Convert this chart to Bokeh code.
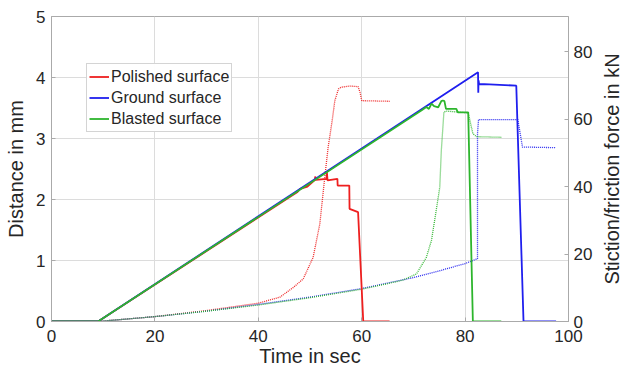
from bokeh.plotting import figure
from bokeh.layouts import row
from bokeh.models import Range1d, LinearAxis, FixedTicker, Legend, LegendItem
from bokeh.embed import file_html
from bokeh.resources import INLINE

# ---- data: force (solid, right axis, kN) ----
t_pol_f = [0, 9, 47.5, 48.1, 49.5, 50.97, 51.0, 51.1, 53.2, 53.25, 53.4, 55.3, 55.35, 57.6, 57.65, 59.3, 60.3, 65.4]
f_pol = [0, 0, 38.3, 39.3, 40.0, 42.0, 43.0, 42.0, 42.3, 44.5, 41.8, 42.3, 40.3, 40.3, 33.4, 32.4, 0, 0]

t_gro_f = [0, 9, 82.5, 82.55, 82.6, 82.7, 84.7, 89.9, 91.3, 97.6]
f_gro = [0, 0, 73.9, 67.8, 71.5, 70.4, 70.3, 69.9, 0, 0]

t_bla_f = [0, 9, 71.6, 72.5, 73.0, 73.5, 74.0, 74.8, 75.4, 75.7, 76.0, 76.3, 78.3, 78.6, 80.6, 81.5, 87.0]
f_bla = [0, 0, 62.6, 63.6, 63.0, 64.6, 63.8, 63.5, 65.3, 65.5, 65.3, 63.0, 63.0, 62.0, 62.0, 0, 0]

# ---- data: distance (dotted, left axis, mm) ----
t_pol_d = [0, 9, 20, 30, 40, 44.2, 46.8, 48.7, 50.6, 51.9, 52.9, 53.5, 54.3, 54.8, 55.5, 56.0, 57.7, 59.3, 59.7, 60.0, 65.4]
d_pol = [0, 0, 0.08, 0.18, 0.30, 0.40, 0.56, 0.70, 1.05, 1.60, 2.40, 2.85, 3.30, 3.62, 3.81, 3.84, 3.86, 3.85, 3.75, 3.62, 3.61]

t_gro_d = [0, 9, 20, 30, 40, 50, 60, 65, 70, 75, 80, 82.4, 82.4, 82.6, 90.2, 91.1, 97.5]
d_gro = [0, 0, 0.08, 0.17, 0.28, 0.40, 0.54, 0.63, 0.72, 0.83, 0.95, 1.03, 3.08, 3.31, 3.31, 2.86, 2.85]

t_bla_d = [0, 9, 20, 30, 40, 50, 60, 65, 68, 70.6, 72.5, 73.5, 74.5, 75.1, 75.4, 75.9, 76.3, 80.6, 81.5, 82.2, 87.0]
d_bla = [0, 0, 0.08, 0.17, 0.27, 0.39, 0.53, 0.62, 0.68, 0.78, 1.05, 1.33, 1.87, 2.20, 2.80, 3.43, 3.45, 3.42, 3.08, 3.03, 3.02]

labels = ["Polished surface", "Ground surface", "Blasted surface"]
colors = ["#ee1f1f", "#1f1fee", "#2db52d"]

x_ticks = [0, 20, 40, 60, 80, 100]
y_ticks = [0, 1, 2, 3, 4, 5]
y2_ticks = [0, 20, 40, 60, 80]

FONT = "Liberation Sans"
AX = "#aaaaaa"
TXT = "#262626"

p = figure(width=596, height=372, output_backend="svg", toolbar_location=None,
           x_range=Range1d(0, 100), y_range=Range1d(0, 5),
           min_border_left=51, min_border_right=28, min_border_top=16, min_border_bottom=51)
p.extra_y_ranges = {"force": Range1d(0, 90.4)}
p.background_fill_color = "white"
p.border_fill_color = "white"
p.outline_line_color = AX
p.outline_line_width = 1

p.xgrid.ticker = FixedTicker(ticks=x_ticks)
p.ygrid.ticker = FixedTicker(ticks=y_ticks)
for g in (p.xgrid, p.ygrid):
    g.grid_line_color = "#dcdcdc"
    g.grid_line_width = 1

def style_axis(ax, standoff, lab_standoff):
    ax.axis_line_color = AX
    ax.major_tick_line_color = AX
    ax.minor_tick_line_color = None
    ax.major_tick_in = 4
    ax.major_tick_out = 0
    ax.major_label_text_font = FONT
    ax.major_label_text_font_size = "17px"
    ax.major_label_text_color = TXT
    ax.axis_label_text_font = FONT
    ax.axis_label_text_font_size = "20px"
    ax.axis_label_text_font_style = "normal"
    ax.axis_label_text_color = TXT
    ax.major_label_standoff = standoff
    ax.axis_label_standoff = lab_standoff

p.xaxis.ticker = FixedTicker(ticks=x_ticks)
p.xaxis.axis_label = "Time in sec"
style_axis(p.xaxis[0], 8, 0)
p.yaxis.ticker = FixedTicker(ticks=y_ticks)
p.yaxis.axis_label = "Distance in mm"
style_axis(p.yaxis[0], 6, 6)

ax2 = LinearAxis(y_range_name="force", ticker=FixedTicker(ticks=y2_ticks))
style_axis(ax2, 5, 0)
p.add_layout(ax2, "right")

# dotted distance curves
for tt, dd, c in [(t_pol_d, d_pol, colors[0]), (t_gro_d, d_gro, colors[1]), (t_bla_d, d_bla, colors[2])]:
    p.line(tt, dd, line_color=c, line_width=1.3, line_dash="1 1", line_alpha=0.95)

# solid force curves
rs = []
for tt, ff, c in [(t_pol_f, f_pol, colors[0]), (t_gro_f, f_gro, colors[1]), (t_bla_f, f_bla, colors[2])]:
    rs.append(p.line(tt, ff, line_color=c, line_width=1.8, y_range_name="force"))

legend = Legend(items=[LegendItem(label=l, renderers=[r]) for l, r in zip(labels, rs)],
                location=(35, 189))
legend.label_text_font = FONT
legend.label_text_font_size = "16px"
legend.label_text_color = TXT
legend.glyph_width = 20
legend.glyph_height = 21
legend.label_height = 21
legend.label_standoff = 2
legend.spacing = 0
legend.padding = 2
legend.margin = 0
legend.border_line_color = "#aaaaaa"
legend.background_fill_color = "white"
p.add_layout(legend)

# narrow companion figure that carries the right-hand axis title (reads bottom-to-top)
p2 = figure(width=32, height=372, output_backend="svg", toolbar_location=None,
            x_range=Range1d(0, 1), y_range=Range1d(0, 1),
            min_border_left=30, min_border_right=0, min_border_top=16, min_border_bottom=51)
p2.outline_line_color = None
p2.background_fill_color = "white"
p2.border_fill_color = "white"
p2.xaxis.visible = False
p2.grid.visible = False
yl = p2.yaxis[0]
yl.ticker = FixedTicker(ticks=[])
yl.axis_line_color = None
yl.major_tick_line_color = None
yl.minor_tick_line_color = None
yl.major_label_text_font_size = "0px"
yl.axis_label = "Stiction/friction force in kN"
yl.axis_label_text_font = FONT
yl.axis_label_text_font_size = "20px"
yl.axis_label_text_font_style = "normal"
yl.axis_label_text_color = TXT
yl.axis_label_standoff = 4

layout = row(p, p2, spacing=0)
open("out.html", "w").write(file_html(layout, INLINE))
